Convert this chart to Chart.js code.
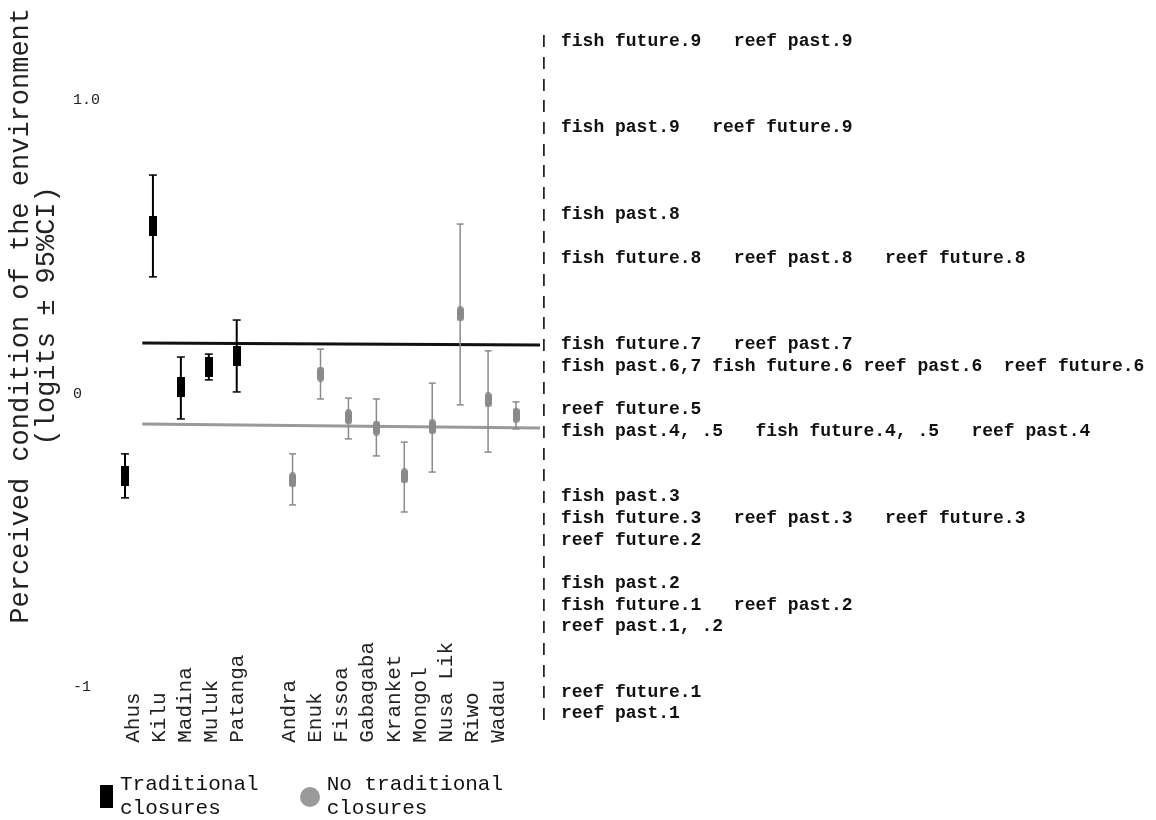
<!DOCTYPE html>
<html>
<head>
<meta charset="utf-8">
<title>Perceived condition of the environment</title>
<script src="https://cdn.jsdelivr.net/npm/chart.js@4.4.1/dist/chart.umd.min.js"></script>
<style>
  html, body { margin: 0; padding: 0; background: #fff; }
  #wrap { position: relative; width: 1156px; height: 820px; }
  #canvas { position: absolute; left: 0; top: 0; }
  #legend { position: absolute; left: 100px; top: 773px; display: flex;
            font: 21px/24px "Liberation Mono", monospace; color: #111; }
  #legend .item { display: flex; align-items: flex-start; }
  #legend .item + .item { margin-left: 41px; }
  #legend .icon.rect { width: 13px; height: 23px; margin-top: 12px; }
  #legend .icon.circle { width: 20px; height: 20px; margin-top: 14px; border-radius: 50%; }
  #legend .txt { white-space: pre; margin-left: 7px; }
</style>
</head>
<body>
<div id="wrap">
  <canvas id="canvas" width="1156" height="820"></canvas>
  <div id="legend"></div>
</div>
<script>
// sites along the x axis (slot 5 is the gap between the two groups)
var sites = ['Ahus', 'Kilu', 'Madina', 'Muluk', 'Patanga', 'Andra', 'Enuk', 'Fissoa',
             'Gabagaba', 'Kranket', 'Mongol', 'Nusa Lik', 'Riwo', 'Wadau'];
var siteSlot = [0, 1, 2, 3, 4, 6, 7, 8, 9, 10, 11, 12, 13, 14];

// villages with traditional closures
var tradSlot = [0, 1, 2, 3, 4];
var tradMean = [-0.279, 0.572, 0.024, 0.092, 0.129];
var tradLow  = [-0.354, 0.399, -0.085, 0.048, 0.007];
var tradHigh = [-0.204, 0.746, 0.126, 0.136, 0.252];

// villages without traditional closures
var noSlot = [6, 7, 8, 9, 10, 11, 12, 13, 14];
var noMean = [-0.293, 0.068, -0.078, -0.116, -0.279, -0.112, 0.273, -0.020, -0.072];
var noLow  = [-0.378, -0.017, -0.153, -0.211, -0.402, -0.266, -0.037, -0.198, -0.119];
var noHigh = [-0.204, 0.153, -0.014, -0.017, -0.164, 0.037, 0.579, 0.147, -0.027];

// group reference lines
var refX = [0.62, 14.97];
var tradRef = [0.174, 0.167];
var noRef = [-0.102, -0.116];

var yTickValues = [1, 0, -1];
var yTickLabels = ['1.0', '0  ', '-1 '];

// key column on the right, one entry per row
var keyRows = [
  'fish future.9   reef past.9', '', '', '',
  'fish past.9   reef future.9', '', '', '',
  'fish past.8', '',
  'fish future.8   reef past.8   reef future.8', '', '', '',
  'fish future.7   reef past.7',
  'fish past.6,7 fish future.6 reef past.6  reef future.6', '',
  'reef future.5',
  'fish past.4, .5   fish future.4, .5   reef past.4', '', '',
  'fish past.3',
  'fish future.3   reef past.3   reef future.3',
  'reef future.2', '',
  'fish past.2',
  'fish future.1   reef past.2',
  'reef past.1, .2', '', '',
  'reef future.1',
  'reef past.1'
];

function marker(w, h, color, round) {
  var c = document.createElement('canvas');
  c.width = w; c.height = h;
  var g = c.getContext('2d');
  g.fillStyle = color;
  if (round) {
    g.beginPath();
    if (g.roundRect) g.roundRect(0, 0, w, h, 3.5);
    else g.ellipse(w / 2, h / 2, w / 2, h / 2, 0, 0, Math.PI * 2);
    g.fill();
  } else {
    g.fillRect(0, 0, w, h);
  }
  return c;
}

function points(xs, ys) {
  return xs.map(function (x, i) { return {x: x, y: ys[i]}; });
}
function caps(xs, lo, hi) {
  var out = [];
  xs.forEach(function (x, i) { out.push({x: x, y: hi[i]}, {x: x, y: lo[i]}); });
  return out;
}
function ranges(xs, lo, hi) {
  return xs.map(function (x, i) { return {x: x, y: [lo[i], hi[i]]}; });
}
function rowTicks(s) {
  s.ticks = keyRows.map(function (r, i) { return {value: i}; });
}

var BLACK = '#000000';
var GREY = '#8a8a8a';
var noGrid = { display: false, drawTicks: false };

var htmlLegend = {
  id: 'htmlLegend',
  afterUpdate: function (chart) {
    var box = document.getElementById('legend');
    box.innerHTML = '';
    chart.data.datasets.forEach(function (ds) {
      if (!ds.legendShape) return;
      var item = document.createElement('div');
      item.className = 'item';
      var icon = document.createElement('span');
      icon.className = 'icon ' + ds.legendShape;
      icon.style.background = ds.legendColor;
      var txt = document.createElement('span');
      txt.className = 'txt';
      txt.textContent = ds.label.replace(/ (\S+)$/, '\n$1');
      item.appendChild(icon);
      item.appendChild(txt);
      box.appendChild(item);
    });
  }
};

Chart.defaults.font.family = '"Liberation Mono", "DejaVu Sans Mono", monospace';
Chart.defaults.color = '#222';

var ctx = document.getElementById('canvas').getContext('2d');
var chart = new Chart(ctx, {
  type: 'scatter',
  plugins: [htmlLegend],
  data: {
    datasets: [
      {
        label: 'Traditional closures', legendShape: 'rect', legendColor: BLACK,
        data: points(tradSlot, tradMean),
        pointStyle: marker(8, 20, BLACK, false), pointRadius: 5
      },
      {
        label: 'No traditional closures', legendShape: 'circle', legendColor: '#9a9a9a',
        data: points(noSlot, noMean),
        pointStyle: marker(7, 15, GREY, true), pointRadius: 5
      },
      {
        label: 'tradCaps', data: caps(tradSlot, tradLow, tradHigh),
        pointStyle: 'line', pointRadius: 4, borderColor: BLACK, pointBorderWidth: 1.5
      },
      {
        label: 'noCaps', data: caps(noSlot, noLow, noHigh),
        pointStyle: 'line', pointRadius: 3.5, borderColor: GREY, pointBorderWidth: 1.5
      },
      {
        type: 'bar', label: 'tradCI', data: ranges(tradSlot, tradLow, tradHigh),
        backgroundColor: BLACK, grouped: false, maxBarThickness: 2, borderWidth: 0
      },
      {
        type: 'bar', label: 'noCI', data: ranges(noSlot, noLow, noHigh),
        backgroundColor: GREY, grouped: false, maxBarThickness: 1.5, borderWidth: 0
      },
      {
        type: 'line', label: 'tradRef', data: points(refX, tradRef),
        borderColor: '#111', borderWidth: 3, pointRadius: 0
      },
      {
        type: 'line', label: 'noRef', data: points(refX, noRef),
        borderColor: '#999', borderWidth: 3, pointRadius: 0
      }
    ]
  },
  options: {
    responsive: false,
    animation: false,
    layout: { padding: { top: 8, bottom: 70, left: 0, right: 0 } },
    plugins: {
      legend: { display: false },
      tooltip: { enabled: false }
    },
    scales: {
      x: {
        type: 'linear', display: false, offset: false,
        grid: { offset: false },
        min: -0.8951, max: 14.8586
      },
      xl: {
        type: 'linear', axis: 'x', position: 'bottom', offset: false,
        min: -1.2644, max: 15.5939,
        grid: noGrid,
        border: { display: false },
        afterBuildTicks: function (s) { s.ticks = siteSlot.map(function (v) { return {value: v}; }); },
        afterFit: function (s) { s.height = 110; },
        ticks: {
          autoSkip: false, minRotation: 90, maxRotation: 90, padding: 2,
          color: '#222', font: { size: 21, lineHeight: 1 },
          callback: function (v, i) { return sites[i].padEnd(8); }
        }
      },
      y: {
        type: 'linear', position: 'left',
        min: -0.8382, max: 1.3152,
        grid: noGrid,
        border: { display: false },
        afterBuildTicks: function (s) { s.ticks = yTickValues.map(function (v) { return {value: v}; }); },
        afterFit: function (s) { s.width = 100; },
        ticks: {
          autoSkip: false, padding: 0, color: '#222',
          font: { size: 15, lineHeight: 1 },
          callback: function (v, i) { return yTickLabels[i]; }
        },
        title: {
          display: true, align: 'end', color: '#222',
          text: ['Perceived condition of the environment', '(logits \u00b1 95%CI)' + '           '],
          font: { size: 27, lineHeight: 0.963 },
          padding: { top: 8, bottom: 0 }
        }
      },
      rowMarks: {
        type: 'linear', axis: 'y', position: 'right', reverse: true, weight: 0,
        min: -1.5207, max: 27.604,
        grid: noGrid,
        border: { display: false },
        afterBuildTicks: rowTicks,
        afterFit: function (s) { s.width = 21; },
        ticks: {
          autoSkip: false, padding: 0, color: '#111',
          font: { size: 13, weight: 'bold', lineHeight: 0.8 },
          callback: function () { return '|'; }
        }
      },
      rows: {
        type: 'linear', axis: 'y', position: 'right', reverse: true, weight: 1,
        min: -1.5207, max: 27.604,
        grid: noGrid,
        border: { display: false },
        afterBuildTicks: rowTicks,
        afterFit: function (s) { s.width = 595; },
        ticks: {
          autoSkip: false, padding: 0, color: '#111',
          font: { size: 18, weight: 'bold', lineHeight: 0.8 },
          callback: function (v, i) { return keyRows[i]; }
        }
      }
    }
  }
});
</script>
</body>
</html>
